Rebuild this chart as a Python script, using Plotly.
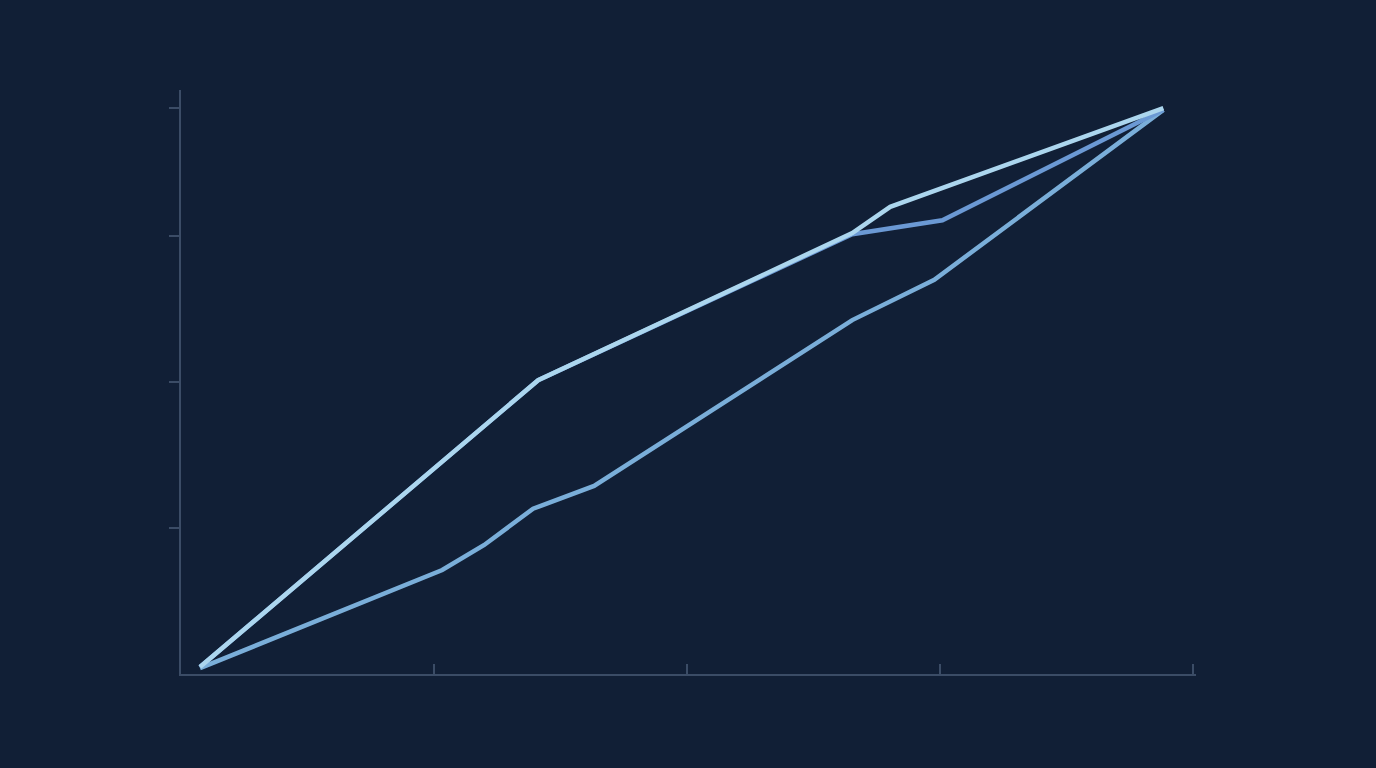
import plotly.graph_objects as go

# data (x axis 0-4, y axis 0-100)
upper_x = [0.075, 1.411, 2.652, 2.802, 3.881]
upper_y = [1.2, 50.3, 75.5, 80.0, 96.9]

middle_x = [0.075, 1.411, 2.652, 3.008, 3.881]
middle_y = [1.2, 50.3, 75.3, 77.7, 96.6]

lower_x = [0.075, 1.032, 1.198, 1.391, 1.632, 2.652, 2.976, 3.881]
lower_y = [1.0, 17.8, 22.1, 28.3, 32.2, 60.6, 67.5, 96.6]

x_ticks = [1, 2, 3, 4]
y_ticks = [25, 50, 75, 97]

bg = "#111f36"
axis_col = "#3b4c66"

fig = go.Figure()

fig.add_trace(go.Scatter(x=lower_x, y=lower_y, mode="lines",
                         line=dict(color="#7aaed9", width=4.5), hoverinfo="skip"))
fig.add_trace(go.Scatter(x=middle_x, y=middle_y, mode="lines",
                         line=dict(color="#6b99d4", width=4.5), hoverinfo="skip"))
fig.add_trace(go.Scatter(x=upper_x, y=upper_y, mode="lines",
                         line=dict(color="#acd6ee", width=4.5), hoverinfo="skip"))

fig.update_layout(
    width=1376, height=768,
    paper_bgcolor=bg, plot_bgcolor=bg,
    showlegend=False,
    margin=dict(l=181, r=180, t=90, b=94),
    # range runs a hair past 4 so plotly keeps the last tick at the corner
    xaxis=dict(range=[0, 4.01], showgrid=False, zeroline=False,
               showline=True, linecolor=axis_col, linewidth=1.5,
               tickvals=x_ticks, ticks="inside", ticklen=10, tickwidth=1.5,
               tickcolor=axis_col, showticklabels=False),
    yaxis=dict(range=[0, 100], showgrid=False, zeroline=False,
               showline=True, linecolor=axis_col, linewidth=1.5,
               tickvals=y_ticks, ticks="outside", ticklen=10, tickwidth=1.5,
               tickcolor=axis_col, showticklabels=False),
)

# page body has a default 8px margin, drop it so the chart fills the window
fig.write_html("out.html",
               config={"displayModeBar": False},
               post_script="document.body.style.margin='0';"
                           "document.body.style.background='%s';" % bg)
